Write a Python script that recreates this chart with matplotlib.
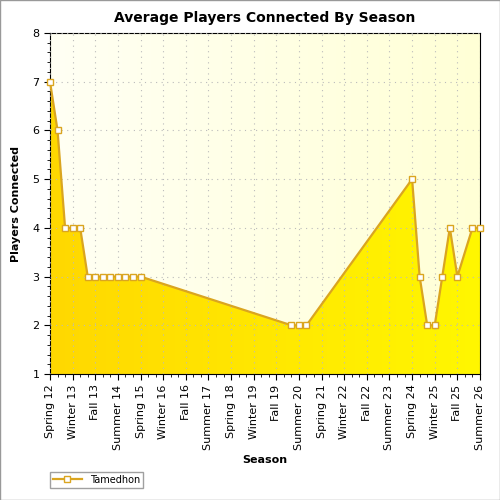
import numpy as np
import matplotlib
matplotlib.use('Agg')
import matplotlib.pyplot as plt
from matplotlib.colors import LinearSegmentedColormap
from matplotlib.patches import PathPatch
from matplotlib.ticker import MultipleLocator

# season index: 0 = Spring 12, one step per season
season_idx = [0, 1, 2, 3, 4, 5, 6, 7, 8, 9, 10, 11, 12,
              32, 33, 34, 48, 49, 50, 51, 52, 53, 54, 56, 57]
players = [7, 6, 4, 4, 4, 3, 3, 3, 3, 3, 3, 3, 3,
           2, 2, 2, 5, 3, 2, 2, 3, 4, 3, 4, 4]
tick_labels = ['Spring 12', 'Winter 13', 'Fall 13', 'Summer 14', 'Spring 15',
               'Winter 16', 'Fall 16', 'Summer 17', 'Spring 18', 'Winter 19',
               'Fall 19', 'Summer 20', 'Spring 21', 'Winter 22', 'Fall 22',
               'Summer 23', 'Spring 24', 'Winter 25', 'Fall 25', 'Summer 26']

fig = plt.figure(figsize=(5, 5), dpi=100)
ax = fig.add_axes([0.1, 0.252, 0.86, 0.682])
ax.set_xlim(0, 57)
ax.set_ylim(1, 8)

# background gradient
bg = LinearSegmentedColormap.from_list('bg', ['#fffff4', '#ffffd6'])
grad = np.linspace(0, 1, 256).reshape(1, -1)
ax.imshow(grad, cmap=bg, aspect='auto', extent=[0, 57, 1, 8], zorder=0)

# gradient fill under line
fillcm = LinearSegmentedColormap.from_list('fill', ['#ffd800', '#fff700'])
img = ax.imshow(grad, cmap=fillcm, aspect='auto', extent=[0, 57, 1, 8], zorder=1)
poly = ax.fill_between(season_idx, players, 1, color='none')
path = poly.get_paths()[0]
patch = PathPatch(path, transform=ax.transData, facecolor='none', edgecolor='none')
ax.add_patch(patch)
img.set_clip_path(patch)

ax.plot(season_idx, players, color='#daa520', lw=1.6, marker='s', ms=4.5,
        mfc='white', mec='#daa520', mew=1, zorder=3, label='Tamedhon', clip_on=False)

ax.set_xticks(range(0, 58, 3))
ax.set_xticklabels(tick_labels, rotation=90, fontsize=8)
ax.xaxis.set_minor_locator(MultipleLocator(1))
ax.yaxis.set_minor_locator(MultipleLocator(0.2))
ax.tick_params(axis='y', labelsize=8)
ax.tick_params(which='minor', length=2)
ax.tick_params(which='major', length=4)
ax.grid(True, which='major', linestyle=(0, (1, 4)), color='#bbbbbb', lw=0.8, zorder=2)
ax.set_axisbelow(False)

ax.set_title('Average Players Connected By Season', fontsize=10, fontweight='bold', pad=8)
ax.set_xlabel('Season', fontsize=8, fontweight='bold')
ax.set_ylabel('Players Connected', fontsize=8, fontweight='bold', labelpad=8)

fig.legend(loc='lower left', bbox_to_anchor=(0.09, 0.015), fontsize=7, frameon=True,
           fancybox=False, edgecolor='#888888', handlelength=3, borderpad=0.3)

fig.patches.append(plt.Rectangle((0, 0), 1, 1, transform=fig.transFigure, fill=False,
                                 edgecolor='#999999', lw=1))
fig.savefig('out.png', dpi=100)
